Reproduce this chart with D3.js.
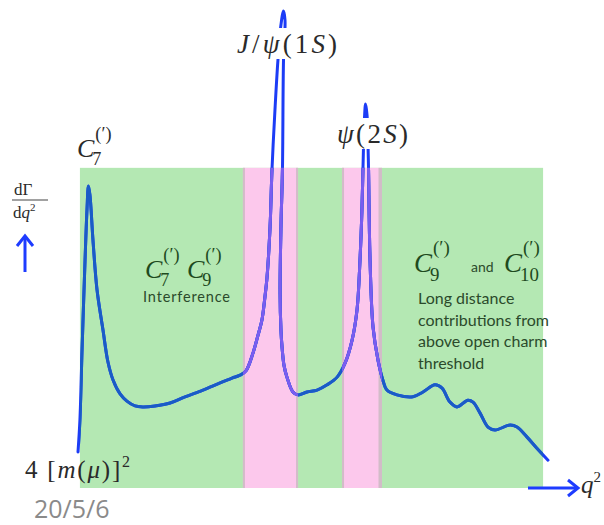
<!DOCTYPE html>
<html><head><meta charset="utf-8">
<script src="https://cdn.jsdelivr.net/npm/d3@7"></script>
<style>body{margin:0;background:#fff}svg{display:block}</style>
</head><body>
<script>
// ---- data (q^2 in GeV^2-like units, rate in arbitrary units) ----
const q2 = [0,0.09,0.19,0.33,0.42,0.49,0.56,0.70,0.89,1.17,1.40,1.64,1.97,2.29,2.67,3.04,3.60,4.31,5.01,5.85,6.65,7.21,7.58,7.86,8.19,8.43,8.61,8.75,8.85,8.99,9.08,9.22,9.36,9.50,9.62,9.69,9.62,9.57,9.50,9.46,9.50,9.55,9.64,9.78,10.06,10.30,10.72,11.19,11.66,12.13,12.50,12.83,13.06,13.20,13.29,13.36,13.41,13.46,13.53,13.58,13.60,13.67,13.81,14.04,14.27,14.46,14.93,15.68,16.15,16.71,17.04,17.41,17.74,18.25,18.49,18.82,19.19,19.52,20.22,20.55,21.02,21.48,22.0];
const rate = [7.5,14.2,28.8,47.5,57.9,62.9,61.0,51.7,41.3,32.9,26.3,22.5,19.6,18.1,17.1,16.9,17.1,17.7,19.0,20.4,21.9,22.9,23.5,24.4,28.1,31.9,35.0,39.8,44.0,54.4,66.3,78.8,89.2,96.5,99.4,97.5,89.2,66.3,54.4,40.6,32.9,29.4,25.6,23.1,20.0,19.4,20.0,20.4,21.5,23.1,26.0,30.8,37.1,47.5,57.9,70.4,77.1,80.0,77.7,70.4,66.3,47.5,33.5,26.7,22.5,20.4,19.4,19.0,20.0,21.5,20.8,17.9,16.9,18.3,17.9,15.6,12.7,12.1,13.1,12.7,10.6,8.3,5.8];
const regionKind  = ["green","pink","pink"];
const regionStart = [0.09, 7.72, 12.36];
const regionEnd   = [21.77, 10.30, 14.23];
const regionTop   = 66.7;
const textLines   = ["Long distance", "contributions from", "above open charm", "threshold"];
const dateLabel   = "20/5/6";

const W = 604, H = 525;
const svg = d3.select("body").append("svg").attr("width", W).attr("height", H);
const x = d3.scaleLinear().domain([0, 22]).range([78, 548]);
const y = d3.scaleLinear().domain([0, 100]).range([488, 8]);

const colors = {green:"#b4e8b3", pink:"#fcc8ec"};
const regions = regionKind.map((k,i)=>({k, a:regionStart[i], b:regionEnd[i]}));

// background regions
svg.selectAll("rect.reg").data(regions).join("rect").attr("class","reg")
  .attr("x", d=>x(d.a)).attr("width", d=>x(d.b)-x(d.a))
  .attr("y", y(regionTop)).attr("height", y(0)-y(regionTop))
  .attr("fill", d=>colors[d.k]);
// thin grey vertical edges on pink bands
const pinks = regions.filter(d=>d.k==="pink");
const edges = pinks.flatMap((d,i)=>[{v:d.a, o:1, w: 2}, {v:d.b, o:-1, w: i===1 ? 3.5 : 2}]);
svg.selectAll("rect.edge").data(edges).join("rect").attr("class","edge")
  .attr("x", d=> d.o>0 ? x(d.v) : x(d.v)-d.w).attr("width", d=>d.w)
  .attr("y", y(regionTop)).attr("height", y(0)-y(regionTop))
  .attr("fill","#d2bcc8");

// label boxes that hide the curve behind the peak labels
const labelBoxes = [{x:233, y:28, w:108, h:31}, {x:334, y:118, w:77, h:31}];

// clip paths + mask
const defs = svg.append("defs");
defs.append("clipPath").attr("id","cg").selectAll("rect").data(regions.filter(d=>d.k==="green")).join("rect")
  .attr("x", d=>x(d.a)).attr("width", d=>x(d.b)-x(d.a)).attr("y", y(regionTop)).attr("height", y(0)-y(regionTop));
defs.append("clipPath").attr("id","cp").selectAll("rect").data(pinks).join("rect")
  .attr("x", d=>x(d.a)).attr("width", d=>x(d.b)-x(d.a)).attr("y", y(regionTop)).attr("height", y(0)-y(regionTop));
const mask = defs.append("mask").attr("id","lm").attr("maskUnits","userSpaceOnUse")
  .attr("x",0).attr("y",0).attr("width",W).attr("height",H);
mask.append("rect").attr("x",0).attr("y",0).attr("width",W).attr("height",H).attr("fill","white");
mask.selectAll("rect.hole").data(labelBoxes).join("rect").attr("class","hole")
  .attr("x",d=>d.x).attr("y",d=>d.y).attr("width",d=>d.w).attr("height",d=>d.h).attr("fill","black");

const pts = q2.map((v,i)=>[v, rate[i]]);
const line = d3.line().x(d=>x(d[0])).y(d=>y(d[1])).curve(d3.curveCatmullRom.alpha(0.5));
const curveG = svg.append("g").attr("mask","url(#lm)");
const drawCurve = (col, clip) => {
  const p = curveG.append("path").datum(pts).attr("d", line).attr("fill","none")
    .attr("stroke", col).attr("stroke-width", 3).attr("stroke-linejoin","round").attr("stroke-linecap","round");
  if (clip) p.attr("clip-path", `url(#${clip})`);
};
drawCurve("#1c3cf6");
drawCurve("#1a5cc6", "cg");
drawCurve("#7a5cf0", "cp");

// ---- text helpers ----
const SERIF = "'Liberation Serif', 'DejaVu Serif', serif";
const SANS = "Lato, 'Open Sans', sans-serif";
function seq(x0, y0, parts, size, color, len) {
  const t = svg.append("text").attr("x", x0).attr("y", y0).attr("font-family", SERIF)
    .attr("font-size", size).attr("fill", color);
  if (len) t.attr("textLength", len).attr("lengthAdjust", "spacing");
  let cur = 0;
  parts.forEach(p => {
    const s = p.s || 0;
    t.append("tspan").attr("dy", s - cur).attr("dx", p.dx || 0)
      .attr("font-size", p.size || size).attr("font-style", p.i ? "italic" : "normal")
      .text(p.t);
    cur = s;
  });
  return t;
}
function cScript(x0, y0, size, sub, color) {
  const c = svg.append("text").attr("x", x0).attr("y", y0).attr("font-family", SERIF)
    .attr("font-style","italic").attr("font-size", size).attr("fill", color).text("C");
  const w = c.node().getComputedTextLength();
  svg.append("text").attr("x", x0 + w + 1).attr("y", y0 - size*0.66).attr("font-family", SERIF)
    .attr("font-size", size*0.7).attr("fill", color).text("(′)");
  svg.append("text").attr("x", x0 + w - 2).attr("y", y0 + size*0.32).attr("font-family", SERIF)
    .attr("font-size", size*0.7).attr("fill", color).text(sub);
}

// peak labels
seq(237, 53, [{t:"J",i:true},{t:"/"},{t:"ψ",i:true},{t:"(1"},{t:"S",i:true},{t:")"}], 27, "#2a2a2a", 100);
seq(337, 143, [{t:"ψ",i:true},{t:"(2"},{t:"S",i:true},{t:")"}], 27, "#2a2a2a", 71);

// C7 label above the first peak
cScript(77, 157, 26, "7", "#2a2a2a");

// dGamma/dq2 fraction
seq(14, 195, [{t:"dΓ"}], 17, "#2a2a2a");
svg.append("line").attr("x1", 12).attr("x2", 48).attr("y1", 200).attr("y2", 200).attr("stroke", "#444").attr("stroke-width", 1.2);
seq(13, 218, [{t:"d"},{t:"q",i:true},{t:"2",s:-7,size:11}], 17, "#2a2a2a");

// arrows
const arrowCol = "#1e3cff";
svg.append("line").attr("x1", 25).attr("x2", 25).attr("y1", 272).attr("y2", 238).attr("stroke", arrowCol).attr("stroke-width", 3);
svg.append("path").attr("d", "M17,246 L25,236 L33,246").attr("fill","none").attr("stroke", arrowCol).attr("stroke-width", 3);
svg.append("line").attr("x1", 528).attr("x2", 576).attr("y1", 488).attr("y2", 488).attr("stroke", arrowCol).attr("stroke-width", 3);
svg.append("path").attr("d", "M568,480 L578,488 L568,496").attr("fill","none").attr("stroke", arrowCol).attr("stroke-width", 3);
seq(581, 493, [{t:"q",i:true},{t:"2",s:-11,size:15}], 25, "#2a2a2a");

// interference block
const dg = "#1e4a1e";
cScript(145, 278, 26, "7", dg);
cScript(187, 278, 26, "9", dg);
svg.append("text").attr("x", 143).attr("y", 302).attr("font-family", SANS).attr("font-size", 14.5)
  .attr("textLength", 87).attr("lengthAdjust", "spacing").attr("fill", "#2b4a2b").text("Interference");

// C9 and C10 block
cScript(414, 272, 27, "9", dg);
svg.append("text").attr("x", 471).attr("y", 272).attr("font-family", SANS).attr("font-size", 14).attr("fill", "#2b4a2b").text("and");
cScript(504, 272, 27, "10", dg);
svg.selectAll("text.ld").data(textLines).join("text").attr("class","ld")
  .attr("x", 418).attr("y", (d,i)=>304 + i*21.5).attr("font-family", SANS).attr("font-size", 16)
  .attr("fill", "#2b4a2b").text(d=>d);

// threshold label
seq(25, 478, [{t:"4 ["},{t:"m",i:true},{t:"("},{t:"μ",i:true},{t:")]"},{t:"2",s:-11,size:16}], 25, "#2a2a2a", 105);

// date
svg.append("text").attr("x", 34).attr("y", 518).attr("font-family", "'Open Sans', sans-serif")
  .attr("font-size", 25).attr("fill", "#8a8a8a").text(dateLabel);
</script>
</body></html>
